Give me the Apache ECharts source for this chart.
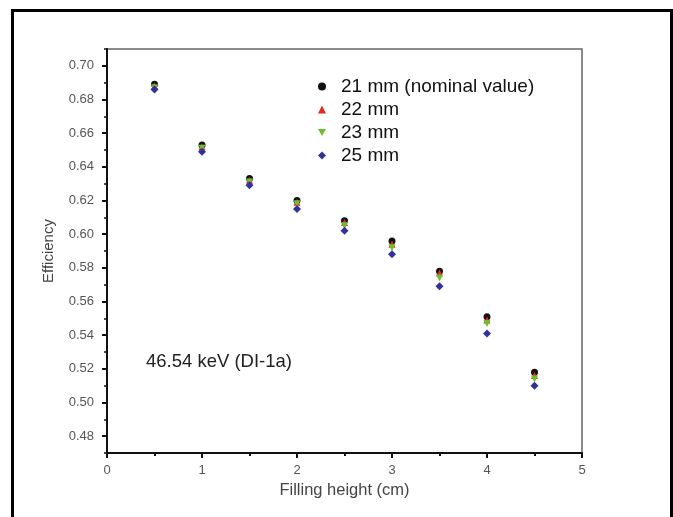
<!DOCTYPE html>
<html><head><meta charset="utf-8">
<script src="https://cdn.jsdelivr.net/npm/echarts@6/dist/echarts.min.js"></script>
<style>html,body{margin:0;padding:0;background:#fff}#c{width:673px;height:517px}</style>
</head><body><div id="c"></div>
<script>
const xHeights = [0.5, 1, 1.5, 2, 2.5, 3, 3.5, 4, 4.5];
const eff21 = [0.689, 0.653, 0.633, 0.620, 0.608, 0.596, 0.578, 0.551, 0.518];
const eff22 = [0.688, 0.652, 0.632, 0.619, 0.607, 0.594, 0.577, 0.549, 0.516];
const eff23 = [0.687, 0.651, 0.631, 0.618, 0.605, 0.592, 0.574, 0.547, 0.514];
const eff25 = [0.686, 0.649, 0.629, 0.615, 0.602, 0.588, 0.569, 0.541, 0.510];
const seriesNames = ['21 mm (nominal value)', '22 mm', '23 mm', '25 mm'];
const annotation = '46.54 keV (DI-1a)';

const pair = arr => xHeights.map((x, i) => [x, arr[i]]);
const font = 'Liberation Sans, Arial, sans-serif';
const chart = echarts.init(document.getElementById('c'));
const mk = (name, data, symbol, color, size) => ({
  name, type: 'scatter', data: pair(data), symbol, symbolSize: size,
  itemStyle: {color, opacity: 1}, xAxisIndex: 0, yAxisIndex: 0
});
chart.setOption({
  animation: false,
  backgroundColor: '#fff',
  grid: {left: 107, top: 49, width: 475, height: 404, show: true, borderColor: '#666', borderWidth: 1.5},
  legend: {
    orient: 'vertical', left: 313, top: 72, itemGap: 4, itemWidth: 8, itemHeight: 8,
    textStyle: {fontFamily: font, fontSize: 19, color: '#111', padding: [0, 0, 0, 10]},
    data: seriesNames
  },
  xAxis: [{
    type: 'value', min: 0, max: 5, interval: 1,
    name: 'Filling height (cm)', nameLocation: 'middle', nameGap: 28,
    nameTextStyle: {fontFamily: font, fontSize: 16.5, color: '#444'},
    axisLine: {show: true, lineStyle: {color: '#111', width: 2}},
    axisTick: {show: true, length: 5, lineStyle: {color: '#111', width: 2}},
    minorTick: {show: true, splitNumber: 2, length: 3, lineStyle: {color: '#111', width: 2}},
    axisLabel: {fontFamily: font, fontSize: 13, color: '#555', margin: 11},
    splitLine: {show: false}
  }],
  yAxis: [{
    type: 'value', min: 0.47, max: 0.71, splitNumber: 12,
    name: 'Efficiency', nameLocation: 'middle', nameGap: 51,
    nameTextStyle: {fontFamily: font, fontSize: 15, color: '#444'},
    axisLine: {show: true, lineStyle: {color: '#111', width: 2}},
    axisTick: {show: true, length: 5, lineStyle: {color: '#111', width: 2}},
    axisLabel: {fontFamily: font, fontSize: 13, color: '#555', margin: 13, showMinLabel: false, showMaxLabel: false,
      formatter: v => v.toFixed(2)},
    splitLine: {show: false}
  }, {
    type: 'value', min: 0.47, max: 0.71, interval: 0.01, position: 'left',
    axisLine: {show: false},
    axisTick: {show: true, length: 3, lineStyle: {color: '#111', width: 1.5}},
    axisLabel: {show: false}, splitLine: {show: false}
  }],
  graphic: [
    {type: 'rect', left: 10, top: 8, shape: {width: 659, height: 530}, style: {fill: 'none', stroke: '#000', lineWidth: 3}},
    {type: 'text', left: 146, top: 352, style: {text: annotation, font: '18.5px Liberation Sans, Arial, sans-serif', fill: '#222'}}
  ],
  series: [
    mk(seriesNames[0], eff21, 'circle', '#111111', 7),
    mk(seriesNames[1], eff22, 'triangle', '#e8281c', 7),
    mk(seriesNames[2], eff23, 'path://M0,0 L10,0 L5,9 Z', '#6cbf2e', 7),
    mk(seriesNames[3], eff25, 'diamond', '#33309a', 8)
  ]
});
</script></body></html>
